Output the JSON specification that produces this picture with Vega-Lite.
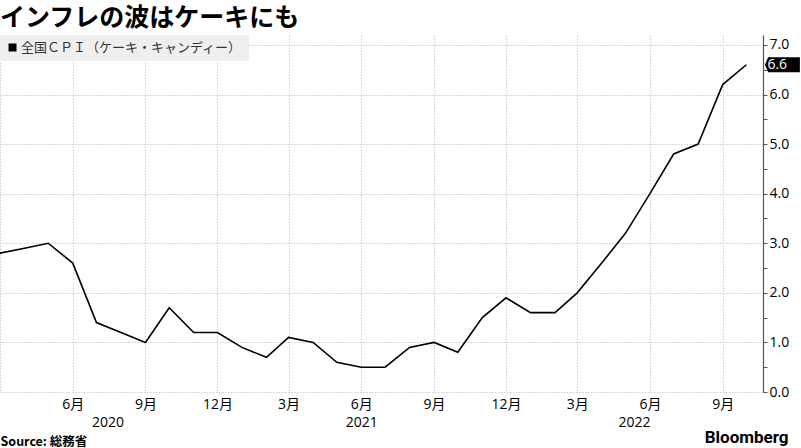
{
  "$schema": "https://vega.github.io/schema/vega-lite/v6.json",
  "width": 763,
  "height": 357,
  "autosize": "none",
  "padding": {"left": 0, "top": 35, "right": 38, "bottom": 56},
  "background": "white",
  "title": {
    "text": "インフレの波はケーキにも",
    "anchor": "start",
    "frame": "group",
    "font": "Noto Sans CJK JP",
    "fontSize": 25,
    "fontWeight": "bold",
    "color": "#000000",
    "offset": 4
  },
  "data": {
    "values": [
      {"date": "2020-03-01", "value": 2.8},
      {"date": "2020-04-01", "value": 2.9},
      {"date": "2020-05-01", "value": 3.0},
      {"date": "2020-06-01", "value": 2.6},
      {"date": "2020-07-01", "value": 1.4},
      {"date": "2020-08-01", "value": 1.2},
      {"date": "2020-09-01", "value": 1.0},
      {"date": "2020-10-01", "value": 1.7},
      {"date": "2020-11-01", "value": 1.2},
      {"date": "2020-12-01", "value": 1.2},
      {"date": "2021-01-01", "value": 0.9},
      {"date": "2021-02-01", "value": 0.7},
      {"date": "2021-03-01", "value": 1.1},
      {"date": "2021-04-01", "value": 1.0},
      {"date": "2021-05-01", "value": 0.6},
      {"date": "2021-06-01", "value": 0.5},
      {"date": "2021-07-01", "value": 0.5},
      {"date": "2021-08-01", "value": 0.9},
      {"date": "2021-09-01", "value": 1.0},
      {"date": "2021-10-01", "value": 0.8},
      {"date": "2021-11-01", "value": 1.5},
      {"date": "2021-12-01", "value": 1.9},
      {"date": "2022-01-01", "value": 1.6},
      {"date": "2022-02-01", "value": 1.6},
      {"date": "2022-03-01", "value": 2.0},
      {"date": "2022-04-01", "value": 2.6},
      {"date": "2022-05-01", "value": 3.2},
      {"date": "2022-06-01", "value": 4.0},
      {"date": "2022-07-01", "value": 4.8},
      {"date": "2022-08-01", "value": 5.0},
      {"date": "2022-09-01", "value": 6.2},
      {"date": "2022-10-01", "value": 6.6}
    ]
  },
  "layer": [
    {
      "mark": {"type": "line", "color": "black", "strokeWidth": 1.6},
      "encoding": {
        "x": {
          "field": "date",
          "type": "temporal",
          "scale": {
            "type": "utc",
            "domain": [
              {"year": 2020, "month": 3, "date": 1, "utc": true},
              {"year": 2022, "month": 10, "date": 22, "utc": true}
            ]
          },
          "axis": {
            "orient": "bottom",
            "values": [
              {"year": 2020, "month": 3, "date": 1, "utc": true},
              {"year": 2020, "month": 6, "date": 1, "utc": true},
              {"year": 2020, "month": 9, "date": 1, "utc": true},
              {"year": 2020, "month": 12, "date": 1, "utc": true},
              {"year": 2021, "month": 3, "date": 1, "utc": true},
              {"year": 2021, "month": 6, "date": 1, "utc": true},
              {"year": 2021, "month": 9, "date": 1, "utc": true},
              {"year": 2021, "month": 12, "date": 1, "utc": true},
              {"year": 2022, "month": 3, "date": 1, "utc": true},
              {"year": 2022, "month": 6, "date": 1, "utc": true},
              {"year": 2022, "month": 9, "date": 1, "utc": true}
            ],
            "labelExpr": "(utcyear(datum.value) == 2020 && utcmonth(datum.value) == 2) ? '' : (utcmonth(datum.value) + 1) + '月'",
            "labelFont": "Open Sans, Noto Sans CJK JP",
            "labelFontSize": 14,
            "labelColor": "#000000",
            "labelPadding": 5,
            "labelOverlap": false,
            "labelFlush": false,
            "domain": false,
            "ticks": false,
            "grid": true,
            "gridColor": "#cccccc",
            "gridDash": [1.5, 1.5],
            "gridWidth": 1,
            "title": "Source: 総務省",
            "titleX": 0,
            "titleY": 49,
            "titleAlign": "left",
            "titleBaseline": "middle",
            "titleFont": "Noto Sans CJK JP",
            "titleFontSize": 12.5,
            "titleFontWeight": "bold",
            "titleColor": "#000000"
          }
        },
        "y": {
          "field": "value",
          "type": "quantitative",
          "scale": {"domain": [0, 7.2], "nice": false, "zero": false},
          "axis": {
            "orient": "right",
            "values": [0, 1, 2, 3, 4, 5, 6, 7],
            "format": ".1f",
            "labelFont": "Open Sans",
            "labelFontSize": 14,
            "labelColor": "#000000",
            "labelPadding": 2,
            "domain": true,
            "domainColor": "#555555",
            "domainWidth": 1.2,
            "ticks": true,
            "tickColor": "#555555",
            "tickSize": 4,
            "grid": true,
            "gridColor": "#cccccc",
            "gridDash": [1.5, 1.5],
            "gridWidth": 1,
            "title": "Bloomberg",
            "titleAngle": 0,
            "titleX": 25,
            "titleY": 402,
            "titleAlign": "right",
            "titleBaseline": "middle",
            "titleFont": "Roboto",
            "titleFontSize": 17,
            "titleFontWeight": "bold",
            "titleColor": "#000000"
          }
        },
        "color": {
          "datum": "全国ＣＰＩ（ケーキ・キャンディー）",
          "type": "nominal",
          "scale": {"range": ["black"]},
          "legend": {
            "orient": "top-left",
            "offset": 0,
            "title": null,
            "fillColor": "#efefef",
            "padding": 6,
            "symbolType": "square",
            "symbolSize": 64,
            "symbolFillColor": "black",
            "symbolStrokeColor": "black",
            "symbolStrokeWidth": 0,
            "labelFont": "Noto Sans CJK JP",
            "labelFontSize": 13,
            "labelColor": "#333333",
            "labelOffset": 2,
            "labelLimit": 400,
            "encode": {"symbols": {"update": {"fill": {"value": "black"}, "strokeWidth": {"value": 0}}}}
          }
        }
      }
    },
    {
      "transform": [{"filter": "datum.value == 6.6"}],
      "mark": {
        "type": "point",
        "shape": "M-2.33,0L-1.9,-1L2.33,-1L2.33,1L-1.9,1Z",
        "size": 225,
        "filled": true,
        "color": "black",
        "opacity": 1,
        "xOffset": 36
      },
      "encoding": {
        "x": {
          "field": "date",
          "type": "temporal",
          "axis": {
            "orient": "bottom",
            "values": [
              {"year": 2020, "month": 7, "date": 15, "utc": true},
              {"year": 2021, "month": 6, "date": 1, "utc": true},
              {"year": 2022, "month": 5, "date": 12, "utc": true}
            ],
            "format": "%Y",
            "labelFont": "Open Sans",
            "labelFontSize": 14,
            "labelColor": "#000000",
            "labelPadding": 23,
            "labelFlush": false,
            "domain": false,
            "ticks": false,
            "grid": false,
            "title": null
          }
        },
        "y": {
          "field": "value",
          "type": "quantitative",
          "axis": {
            "orient": "right",
            "values": [0.5, 1.5, 2.5, 3.5, 4.5, 5.5, 6.5],
            "labels": false,
            "domain": false,
            "grid": false,
            "ticks": true,
            "tickColor": "#555555",
            "tickSize": 4,
            "title": null
          }
        }
      }
    },
    {
      "transform": [{"filter": "datum.value == 6.6"}],
      "mark": {
        "type": "text",
        "xOffset": 21,
        "align": "left",
        "baseline": "middle",
        "color": "white",
        "font": "Open Sans",
        "fontSize": 14
      },
      "encoding": {
        "x": {"field": "date", "type": "temporal", "axis": null},
        "y": {"field": "value", "type": "quantitative", "axis": null},
        "text": {"field": "value", "type": "quantitative", "format": ".1f"}
      }
    }
  ],
  "resolve": {"axis": {"x": "independent", "y": "independent"}},
  "config": {"view": {"stroke": null}}
}
